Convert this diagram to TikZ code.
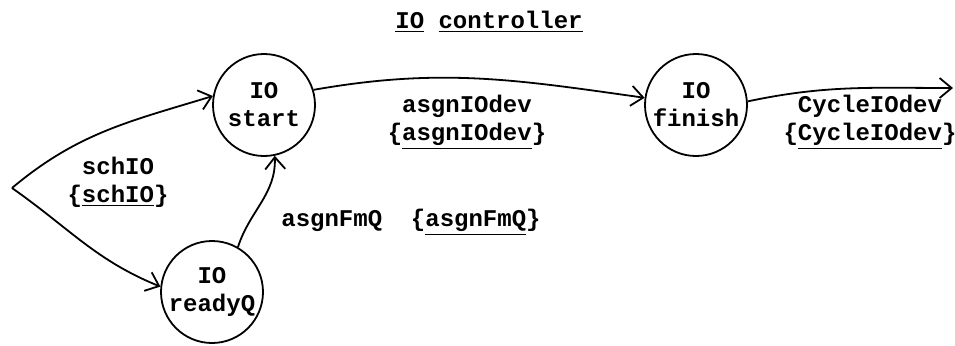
\documentclass[tikz,border=0pt]{standalone}
\usepackage{fontspec}
\setmonofont{Liberation Mono}
\usetikzlibrary{automata, positioning, arrows.meta}
\tikzset{
  >={Straight Barb[length=6pt,width=10pt]},
  x=0.5pt, y=-0.5pt,
  every node/.style={font=\ttfamily\bfseries\fontsize{12}{14}\selectfont},
  every state/.style={draw, line width=0.9pt, minimum size=51pt, inner sep=0pt, align=center},
  conn/.style={->, line width=0.9pt},
  lbl/.style={align=center},
}

\begin{document}
\begin{tikzpicture}
      \useasboundingbox (0,0) rectangle (955,345);

      \node[lbl] (title) at (489,22) {\underline{IO} \underline{controller}};

      \node[state] (start)  at (264,105) {IO\\start};
      \node[state] (readyQ) at (212,292) {IO\\readyQ};
      \node[state] (finish) at (696,105) {IO\\finish};

      \coordinate (src) at (12,188);
      \coordinate (out) at (953,88);

      \node[lbl] (schIO)    at (118,182) {schIO\\\{\underline{schIO}\}};
      \node[lbl] (asgnIO)   at (467,122) {asgnIOdev\\\{\underline{asgnIOdev}\}};
      \node[lbl] (cycleIO)  at (870,122) {CycleIOdev\\\{\underline{CycleIOdev}\}};
      \node[lbl] (asgnFmQ)  at (411,222) {asgnFmQ~~\{\underline{asgnFmQ}\}};

      \draw[conn] (src) to[out=40,in=197] (start.170);
      \draw[conn] (src) to[out=-35,in=158] (readyQ.174);
      \draw[conn] (readyQ.60) to[out=72,in=-88] (start.-78);
      \draw[conn] (start.17) to[out=10,in=172] (finish.172);
      \draw[conn] (finish.4) to[out=12,in=180] (out);
    \end{tikzpicture}
\end{document}
